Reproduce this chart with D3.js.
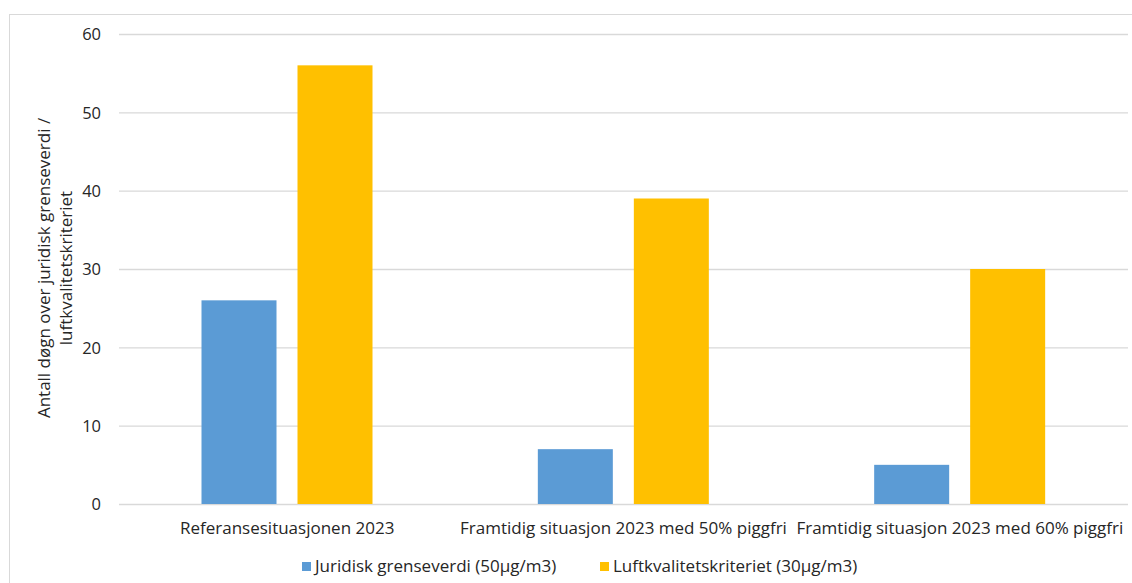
<!DOCTYPE html>
<html><head><meta charset="utf-8">
<script src="https://cdn.jsdelivr.net/npm/d3@7"></script>
<style>body{margin:0;background:#fff;} text{font-family:"Open Sans",sans-serif;fill:#262626;}</style>
</head><body>
<svg id="c" width="1132" height="583"></svg>
<script>
const categories = ["Referansesituasjonen 2023","Framtidig situasjon 2023 med 50% piggfri","Framtidig situasjon 2023 med 60% piggfri"];
const seriesNames = ["Juridisk grenseverdi (50µg/m3)","Luftkvalitetskriteriet (30µg/m3)"];
const juridisk = [26,7,5];
const luftkvalitet = [56,39,30];
const yTicks = [0,10,20,30,40,50,60];
const colors = ["#5B9BD5","#FFC000"];

const svg = d3.select("#c");
svg.append("rect").attr("x",9.5).attr("y",14.5).attr("width",1130).attr("height",580).attr("fill","none").attr("stroke","#d9d9d9");

const L=119,R=1128,T=34,B=504;
const x = d3.scaleBand().domain(categories).range([L,R]).paddingInner(0).paddingOuter(0);
const x1 = d3.scaleBand().domain([0,1]).range([82.5,82.5+171]).paddingInner(21/96).paddingOuter(0);
const y = d3.scaleLinear().domain([0,60]).range([B,T]);

const g = svg.append("g");
g.selectAll("line.grid").data(yTicks).join("line").attr("x1",L).attr("x2",R)
 .attr("y1",d=>y(d)+0.5).attr("y2",d=>y(d)+0.5).attr("stroke","#d9d9d9").attr("stroke-width",1.3);

const yAxis = d3.axisLeft(y).tickValues(yTicks).tickSize(0).tickPadding(0);
const ya = svg.append("g").attr("transform",`translate(101,0)`).call(yAxis);
ya.select(".domain").remove();
ya.selectAll("text").style("font-family","Open Sans").style("font-size","16.5px").attr("fill","#262626").attr("dy","0.35em");

const data = [juridisk, luftkvalitet];
categories.forEach((c,i)=>{
  [0,1].forEach(s=>{
    const v = data[s][i];
    svg.append("rect").attr("x",x(c)+x1(s)).attr("y",y(v)).attr("width",x1.bandwidth()).attr("height",y(0)-y(v)).attr("fill",colors[s]);
  });
});

const xAxis = d3.axisBottom(x).tickSize(0).tickPadding(0);
const xa = svg.append("g").attr("transform",`translate(0,${B+24})`).call(xAxis);
xa.select(".domain").remove();
xa.selectAll("text").style("font-family","Open Sans").style("font-size","17px").attr("fill","#262626").attr("dy","0.35em");

const yt = svg.append("text").attr("transform","translate(55,268) rotate(-90)").attr("text-anchor","middle").style("font-size","17px");
yt.append("tspan").attr("x",0).attr("dy","-0.3em").text("Antall døgn over juridisk grenseverdi /");
yt.append("tspan").attr("x",0).attr("dy","1.3em").text("luftkvalitetskriteriet");

const legX=[302,600];
seriesNames.forEach((n,i)=>{
  svg.append("rect").attr("x",legX[i]).attr("y",562).attr("width",9).attr("height",9).attr("fill",colors[i]);
  svg.append("text").attr("x",legX[i]+13).attr("y",566.5).attr("dy","0.35em").style("font-size","17px").text(n);
});
</script>
</body></html>
